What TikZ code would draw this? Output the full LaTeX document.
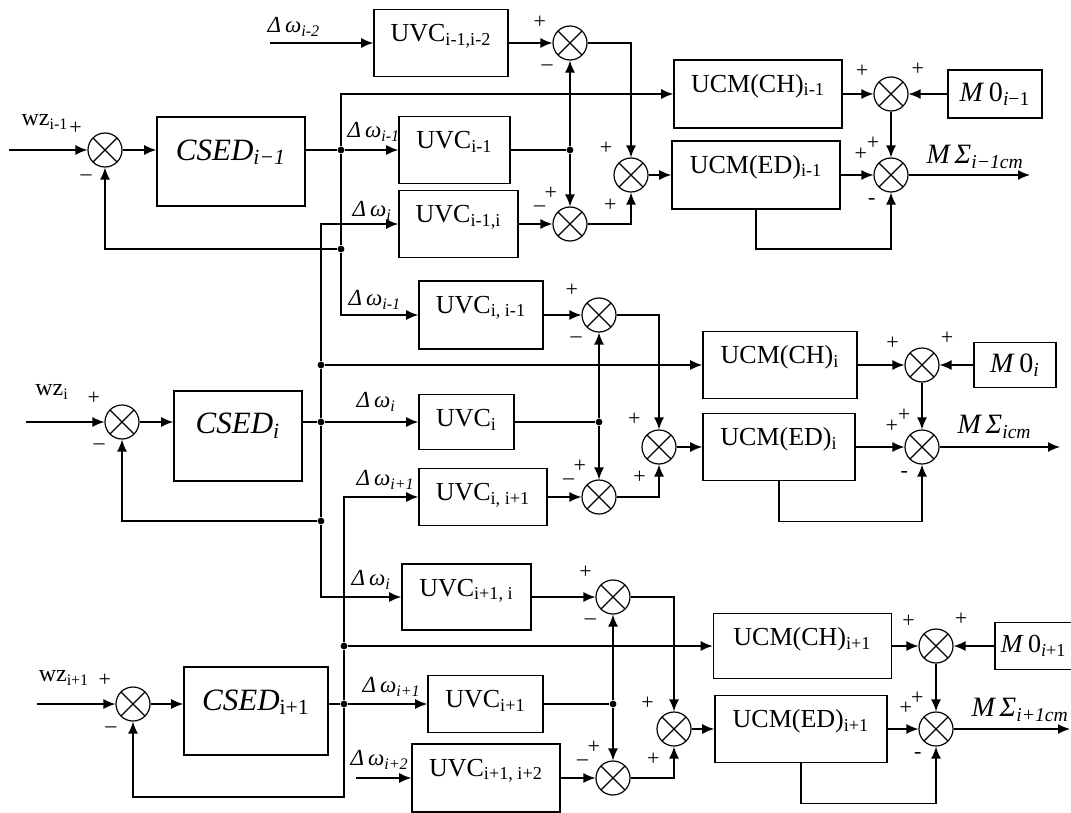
\documentclass[tikz,border=0pt]{standalone}
\usepackage{fontspec}
\setmainfont{Liberation Serif}
\usetikzlibrary{arrows.meta}

\tikzset{
  blk/.style={draw, line width=0.8pt, inner sep=0pt},
  ttl/.style={anchor=base, yshift=-16.5pt, font=\fontsize{13}{15}\selectfont},
  cs/.style={yshift=-5.5pt, font=\fontsize{15.5}{18}\selectfont\itshape},
  sumn/.style={circle, draw, line width=0.6pt, minimum size=17pt, inner sep=0pt,
    path picture={\draw[line width=0.6pt] (path picture bounding box.north west) -- (path picture bounding box.south east)
      (path picture bounding box.north east) -- (path picture bounding box.south west);}},
  sg/.style={font=\fontsize{11}{12}\selectfont, inner sep=0.5pt, shift={(#1:4pt)}},
  jdot/.style={circle, fill, inner sep=0pt, minimum size=3.4pt},
  arr/.style={-{Latex[length=6pt,width=5pt]}},
  lbl/.style={font=\fontsize{12}{14}\selectfont, inner sep=0pt},
  dw/.style={font=\fontsize{11.5}{14}\selectfont\itshape, inner sep=0pt, anchor=west},
  ms/.style={font=\fontsize{14}{16}\selectfont\itshape, inner sep=0pt, anchor=west},
  mz/.style={font=\fontsize{14}{16}\selectfont},
}

\begin{document}
\begin{tikzpicture}[x=0.5pt, y=-0.5pt, line width=0.7pt]
  \useasboundingbox (0,0) rectangle (1071,813);
  \clip (0,0) rectangle (1071,813);

  \node[sumn, label={[sg=147]147:+}, label={[sg=243]243:--}] (sA0) at (105,150) {};
  \node[blk, minimum width=74pt, minimum height=44.5pt, label={[ttl,cs]north:CSED\textsubscript{i−1}}] (csedA) at (231,161.5) {};
  \node[jdot] (dA1) at (341,150) {};
  \node[jdot] (dA2) at (341,249) {};
  \node[blk, minimum width=67pt, minimum height=33.5pt, label={[ttl]north:UVC\textsubscript{i-1,i-2}}] (uA1) at (441,43) {};
  \node[blk, minimum width=55.5pt, minimum height=33.5pt, label={[ttl]north:UVC\textsubscript{i-1}}] (uA2) at (454.5,150) {};
  \node[blk, minimum width=59.5pt, minimum height=33.5pt, label={[ttl]north:UVC\textsubscript{i-1,i}}] (uA3) at (458.5,224) {};
  \node[sumn, label={[sg=150]150:+}, label={[sg=232]232:--}] (sA1) at (570,43) {};
  \node[jdot] (jA) at (570,150) {};
  \node[sumn, label={[sg=116]116:+}, label={[sg=155]155:--}] (sA2) at (570,224) {};
  \node[sumn, label={[sg=132]132:+}, label={[sg=240]240:+}] (sA3) at (631,175) {};
  \node[blk, minimum width=84pt, minimum height=34pt, label={[ttl]north:UCM(CH)\textsubscript{i-1}}] (cA1) at (758,94) {};
  \node[blk, minimum width=84pt, minimum height=34pt, label={[ttl]north:UCM(ED)\textsubscript{i-1}}] (cA2) at (756,175) {};
  \node[sumn, label={[sg=145]145:+}, label={[sg=42]42:+}] (sA4) at (891,94) {};
  \node[blk, mz, minimum width=47pt, minimum height=24pt] (mA) at (995,94) {\textit{M}\,0\textsubscript{\textit{i}−1}};
  \node[sumn, label={[sg=113]113:+}, label={[sg=150]150:+}, label={[sg=237]237:-}] (sA5) at (891,175) {};
  \coordinate (iA) at (9,150);
  \coordinate (iA1) at (270,43);
  \coordinate (oA) at (1030,175);

  \node[sumn, label={[sg=142]142:+}, label={[sg=232]232:--}] (sB0) at (122,422) {};
  \node[blk, minimum width=64pt, minimum height=45pt, label={[ttl,cs]north:CSED\textsubscript{i}}] (csedB) at (238,435.7) {};
  \node[jdot] (dB1) at (321,365) {};
  \node[jdot] (dB2) at (321,422) {};
  \node[jdot] (dB3) at (321,521) {};
  \node[blk, minimum width=62pt, minimum height=34pt, label={[ttl]north:UVC\textsubscript{i, i-1}}] (uB1) at (481,315) {};
  \node[blk, minimum width=47.5pt, minimum height=27.5pt, label={[ttl]north:UVC\textsubscript{i}}] (uB2) at (466.5,422) {};
  \node[blk, minimum width=64pt, minimum height=28.5pt, label={[ttl]north:UVC\textsubscript{i, i+1}}] (uB3) at (483,497) {};
  \node[sumn, label={[sg=139]139:+}, label={[sg=232]232:--}] (sB1) at (599,315) {};
  \node[jdot] (jB) at (599,422) {};
  \node[sumn, label={[sg=116]116:+}, label={[sg=155]155:--}] (sB2) at (599,497) {};
  \node[sumn, label={[sg=131]131:+}, label={[sg=243]243:+}] (sB3) at (659,447) {};
  \node[blk, minimum width=77pt, minimum height=33.5pt, label={[ttl]north:UCM(CH)\textsubscript{i}}] (cB1) at (780,365) {};
  \node[blk, minimum width=76pt, minimum height=33.5pt, label={[ttl]north:UCM(ED)\textsubscript{i}}] (cB2) at (779,447) {};
  \node[sumn, label={[sg=147]147:+}, label={[sg=48]48:+}] (sB4) at (922,365) {};
  \node[blk, mz, minimum width=41pt, minimum height=22.5pt] (mB) at (1015,365) {\textit{M}\,0\textsubscript{\textit{i}}};
  \node[sumn, label={[sg=113]113:+}, label={[sg=150]150:+}, label={[sg=241]241:-}] (sB5) at (922,447) {};
  \coordinate (iB) at (26,422);
  \coordinate (oB) at (1060,447);

  \node[sumn, label={[sg=142]142:+}, label={[sg=234]234:--}] (sC0) at (133,704) {};
  \node[blk, minimum width=72pt, minimum height=44pt, label={[ttl,cs]north:CSED\textsubscript{\upshape i+1}}] (csedC) at (256,711) {};
  \node[jdot] (dC1) at (344,646) {};
  \node[jdot] (dC2) at (344,704) {};
  \node[blk, minimum width=64.5pt, minimum height=33pt, label={[ttl]north:UVC\textsubscript{i+1, i}}] (uC1) at (466.5,597) {};
  \node[blk, minimum width=57.5pt, minimum height=28.5pt, label={[ttl]north:UVC\textsubscript{i+1}}] (uC2) at (485.5,704) {};
  \node[blk, minimum width=74pt, minimum height=34pt, label={[ttl]north:UVC\textsubscript{i+1, i+2}}] (uC3) at (486,778) {};
  \node[sumn, label={[sg=140]140:+}, label={[sg=233]233:--}] (sC1) at (613,597) {};
  \node[jdot] (jC) at (613,704) {};
  \node[sumn, label={[sg=116]116:+}, label={[sg=155]155:--}] (sC2) at (613,778) {};
  \node[sumn, label={[sg=136]136:+}, label={[sg=240]240:+}] (sC3) at (674,729) {};
  \node[blk, minimum width=89pt, minimum height=32.5pt, label={[ttl]north:UCM(CH)\textsubscript{i+1}}] (cC1) at (802.5,646) {};
  \node[blk, minimum width=86pt, minimum height=33.5pt, label={[ttl]north:UCM(ED)\textsubscript{i+1}}] (cC2) at (801,729) {};
  \node[sumn, label={[sg=140]140:+}, label={[sg=48]48:+}] (sC4) at (936,646) {};
  \node[blk, minimum width=52.5pt, minimum height=23.5pt, label={[anchor=west, inner sep=0pt, xshift=3pt, font=\fontsize{13}{15}\selectfont]west:\textit{M}\,0\textsubscript{\textit{i}+1}}] (mC) at (1047.5,646) {};
  \node[sumn, label={[sg=115]115:+}, label={[sg=150]150:+}, label={[sg=240]240:-}] (sC5) at (936,729) {};
  \coordinate (iC) at (37,704);
  \coordinate (iC3) at (356,778);
  \coordinate (cC) at (344,797);
  \coordinate (oC) at (1070,729);

  \node[lbl] (wA) at (45,122) {wz\textsubscript{i-1}};
  \node[lbl] (wB) at (52,392) {wz\textsubscript{i}};
  \node[lbl] (wC) at (64,678) {wz\textsubscript{i+1}};
  \node[dw] (dwA0) at (267,27) {Δ\,ω\textsubscript{i-2}};
  \node[dw] (dwA1) at (347,132) {Δ\,ω\textsubscript{i-1}};
  \node[dw] (dwA2) at (352,211) {Δ\,ω\textsubscript{i}};
  \node[dw] (dwB0) at (348,300) {Δ\,ω\textsubscript{i-1}};
  \node[dw] (dwB1) at (356,402) {Δ\,ω\textsubscript{i}};
  \node[dw] (dwB2) at (356,480) {Δ\,ω\textsubscript{i+1}};
  \node[dw] (dwC0) at (351,580) {Δ\,ω\textsubscript{i}};
  \node[dw] (dwC1) at (362,687) {Δ\,ω\textsubscript{i+1}};
  \node[dw] (dwC2) at (350,760) {Δ\,ω\textsubscript{i+2}};
  \node[ms] (msA) at (926,157) {M\,Σ\textsubscript{i−1cm}};
  \node[ms] (msB) at (957,427) {M\,Σ\textsubscript{icm}};
  \node[ms] (msC) at (971,710) {M\,Σ\textsubscript{i+1cm}};

  \draw[arr] (iA) -- (sA0);
  \draw[arr] (sA0) -- (sA0 -| csedA.west);
  \draw (sA0 -| csedA.east) -- (dA1);
  \draw[arr] (dA1) |- (cA1);
  \draw[arr] (dA1) -- (uA2);
  \draw (dA1) -- (dA2);
  \draw[arr] (dA2) |- (uB1);
  \draw[arr] (dA2) -| (sA0);
  \draw[arr] (iA1) -- (uA1);
  \draw[arr] (uA1) -- (sA1);
  \draw (uA2) -- (jA);
  \draw[arr] (jA) -- (sA1);
  \draw[arr] (jA) -- (sA2);
  \draw[arr] (uA3) -- (sA2);
  \draw[arr] (sA1) -| (sA3);
  \draw[arr] (sA2) -| (sA3);
  \draw[arr] (sA3) -- (cA2);
  \draw[arr] (cA1) -- (sA4);
  \draw[arr] (mA) -- (sA4);
  \draw[arr] (sA4) -- (sA5);
  \draw[arr] (cA2) -- (sA5);
  \draw[arr] (sA5) -- (oA);
  \draw[arr] (cA2.south) -- ++(0,39) -| (sA5);

  \draw[arr] (iB) -- (sB0);
  \draw[arr] (sB0) -- (sB0 -| csedB.west);
  \draw (sB0 -| csedB.east) -- (dB2);
  \draw[arr] (dB2) -- (uB2);
  \draw[arr] (dB1) |- (uA3);
  \draw[arr] (dB1) -- (cB1);
  \draw (dB1) -- (dB2) -- (dB3);
  \draw[arr] (dB3) |- (uC1);
  \draw[arr] (dB3) -| (sB0);
  \draw[arr] (uB1) -- (sB1);
  \draw (uB2) -- (jB);
  \draw[arr] (jB) -- (sB1);
  \draw[arr] (jB) -- (sB2);
  \draw[arr] (uB3) -- (sB2);
  \draw[arr] (sB1) -| (sB3);
  \draw[arr] (sB2) -| (sB3);
  \draw[arr] (sB3) -- (cB2);
  \draw[arr] (cB1) -- (sB4);
  \draw[arr] (mB) -- (sB4);
  \draw[arr] (sB4) -- (sB5);
  \draw[arr] (cB2) -- (sB5);
  \draw[arr] (sB5) -- (oB);
  \draw[arr] (cB2.south) -- ++(0,40) -| (sB5);

  \draw[arr] (iC) -- (sC0);
  \draw[arr] (sC0) -- (sC0 -| csedC.west);
  \draw (sC0 -| csedC.east) -- (dC2);
  \draw[arr] (dC2) -- (uC2);
  \draw[arr] (dC1) |- (uB3);
  \draw[arr] (dC1) -- (cC1);
  \draw[arr] (dC1) -- (dC2) -- (cC) -| (sC0);
  \draw[arr] (iC3) -- (uC3);
  \draw[arr] (uC1) -- (sC1);
  \draw (uC2) -- (jC);
  \draw[arr] (jC) -- (sC1);
  \draw[arr] (jC) -- (sC2);
  \draw[arr] (uC3) -- (sC2);
  \draw[arr] (sC1) -| (sC3);
  \draw[arr] (sC2) -| (sC3);
  \draw[arr] (sC3) -- (cC2);
  \draw[arr] (cC1) -- (sC4);
  \draw[arr] (mC) -- (sC4);
  \draw[arr] (sC4) -- (sC5);
  \draw[arr] (cC2) -- (sC5);
  \draw[arr] (sC5) -- (oC);
  \draw[arr] (cC2.south) -- ++(0,40) -| (sC5);
\end{tikzpicture}
\end{document}
